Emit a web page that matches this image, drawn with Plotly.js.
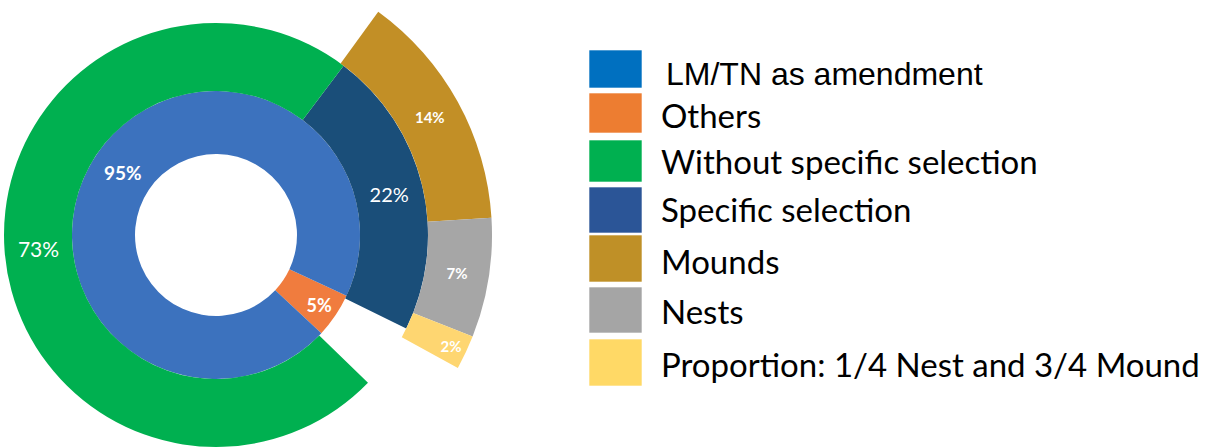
<!DOCTYPE html>
<html><head><meta charset="utf-8">
<script src="https://cdn.plot.ly/plotly-3.0.1.min.js"></script>
<style>
html,body{margin:0;padding:0;width:1211px;height:448px;overflow:hidden;background:#fff;}
#chart{position:absolute;left:-80px;top:-60px;width:1291px;height:608px;}
</style></head><body><div id="chart"></div>
<script>
// ---------- data ----------
const innerLabels = ['Others', 'LM/TN as amendment'];
const innerValues = [5, 95];
const middleLabels = ['Specific selection', '', 'Without specific selection'];
const middleValues = [22, 5, 73];
const outerLabels = ['Mounds', 'Nests', 'Proportion: 1/4 Nest and 3/4 Mound', ''];
const outerValues = [14, 7, 2, 77];
const legendLabels = ['LM/TN as amendment', 'Others', 'Without specific selection',
  'Specific selection', 'Mounds', 'Nests', 'Proportion: 1/4 Nest and 3/4 Mound'];

// ---------- styles ----------
const innerColors = ['#F07C3E', '#3C72BE'];
const middleColors = ['#1A4E79', 'rgba(0,0,0,0)', '#00B050'];
const outerColors = ['#C28F26', '#A6A6A6', '#FED671', 'rgba(0,0,0,0)'];
const legendColors = ['#0070C0', '#ED7D31', '#00B050', '#2B5597', '#BF9027', '#A5A5A5', '#FFD966'];
const legendTop = [50, 93, 140, 187, 235, 287, 339];
const legendBot = [88, 133, 182, 233, 282, 333, 386];
const legendTextY = [74, 115, 161, 209, 261, 311, 364];

const W = 1291, H = 608, OFFX = 80, OFFY = 60;
const CX = 216, CY = 235;
const R_HOLE = 81, R1 = 144, R2 = 212, R3 = 276;
const px = x => (x + OFFX) / W;
const py = y => 1 - (y + OFFY) / H;
const dom = r => ({x: [px(CX - r), px(CX + r)], y: [py(CY + r), py(CY - r)]});
const pct = (vals, labs) => vals.map((v, i) => labs[i] ? v + '%' : '');

const FONT = 'Lato, "Open Sans", sans-serif';

const traces = [
  {
    type: 'pie', labels: innerLabels, values: innerValues, text: pct(innerValues, innerLabels),
    textinfo: 'text', sort: false, direction: 'clockwise', rotation: 115,
    hole: R_HOLE / R1, domain: dom(R1),
    marker: {colors: innerColors, line: {width: 0}},
    textposition: 'inside', insidetextorientation: 'horizontal',
    insidetextfont: {family: FONT, color: '#fff', size: [18, 19], weight: [700, 700]},
    hoverinfo: 'label+text'
  },
  {
    type: 'pie', labels: middleLabels.map((l, i) => l || 'gap1'), values: middleValues,
    text: pct(middleValues, middleLabels),
    textinfo: 'text', sort: false, direction: 'clockwise', rotation: 37,
    hole: R1 / R2, domain: dom(R2),
    marker: {colors: middleColors, line: {width: 0}},
    textposition: 'inside', insidetextorientation: 'horizontal',
    insidetextfont: {family: FONT, color: '#fff', size: [20, 1, 21], weight: [400, 400, 400]},
    hoverinfo: 'label+text'
  },
  {
    type: 'pie', labels: outerLabels.map((l, i) => l || 'gap2'), values: outerValues,
    text: pct(outerValues, outerLabels),
    textinfo: 'text', sort: false, direction: 'clockwise', rotation: 36,
    hole: R2 / R3, domain: dom(R3),
    marker: {colors: outerColors, line: {width: 0}},
    textposition: 'inside', insidetextorientation: 'horizontal',
    insidetextfont: {family: FONT, color: '#fff', size: [15, 15, 15, 1], weight: [700, 700, 700, 700]},
    hoverinfo: 'label+text'
  }
];

const shapes = legendLabels.map((l, i) => ({
  type: 'rect', xref: 'paper', yref: 'paper',
  x0: px(589), x1: px(642), y0: py(legendBot[i]), y1: py(legendTop[i]),
  fillcolor: legendColors[i], line: {width: 1, color: 'rgba(255,255,255,0.6)'}
}));
const annotations = legendLabels.map((l, i) => ({
  xref: 'paper', yref: 'paper', x: px(i === 0 ? 664 : 659), y: py(legendTextY[i]),
  xanchor: 'left', yanchor: 'middle', showarrow: false, text: l,
  font: i === 0 ? {family: '"Liberation Sans", Arial, sans-serif', size: 32, color: '#000'}
                : {family: FONT, size: 33, color: '#000'}
}));

Plotly.newPlot('chart', traces, {
  width: W, height: H, margin: {l: 0, r: 0, t: 0, b: 0},
  paper_bgcolor: '#fff', showlegend: false, shapes, annotations
}, {staticPlot: true});
</script></body></html>
